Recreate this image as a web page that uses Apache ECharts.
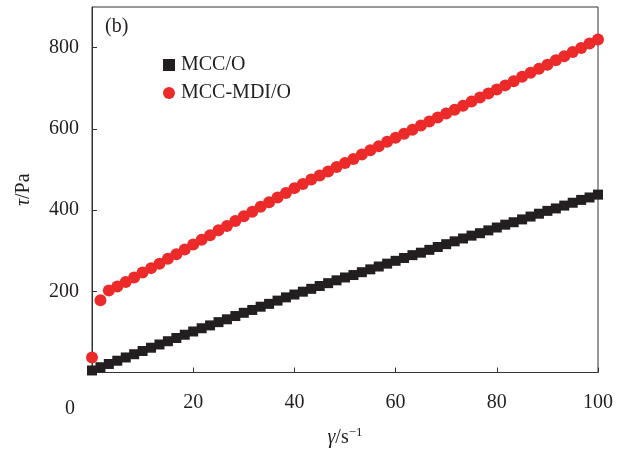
<!DOCTYPE html>
<html lang="en">
<head>
    <meta charset="UTF-8">
    <title>Shear stress vs shear rate</title>
</head>
<style>
    body{
        margin: 0;
        padding: 0;
        background-color: #fff;
    }
    .main{
        width: 628px;
        height: 453px;
    }
</style>
<body>
    <div class="main"></div>
</body>
<script src="https://cdn.jsdelivr.net/npm/echarts/dist/echarts.min.js"></script>
<script>
  // 剪切速率 (s^-1)
  var shearRate = [0, 1.67, 3.33, 5, 6.67, 8.33, 10, 11.67, 13.33, 15, 16.67, 18.33, 20,
    21.67, 23.33, 25, 26.67, 28.33, 30, 31.67, 33.33, 35, 36.67, 38.33, 40,
    41.67, 43.33, 45, 46.67, 48.33, 50, 51.67, 53.33, 55, 56.67, 58.33, 60,
    61.67, 63.33, 65, 66.67, 68.33, 70, 71.67, 73.33, 75, 76.67, 78.33, 80,
    81.67, 83.33, 85, 86.67, 88.33, 90, 91.67, 93.33, 95, 96.67, 98.33, 100];
  // 剪切应力 (Pa)
  var mccO = [5, 13, 21, 29, 37, 45, 53, 61, 69, 77, 85, 93, 101,
    109, 116, 124, 131, 139, 147, 154, 162, 169, 177, 185, 192,
    199, 206, 213, 220, 227, 234, 240, 247, 254, 261, 268, 275,
    282, 289, 295, 302, 309, 316, 323, 330, 337, 343, 350, 357,
    364, 370, 377, 384, 391, 398, 404, 411, 418, 425, 431, 438];
  var mccMdiO = [37, 178, 202, 212, 223, 234, 246, 257, 268, 280, 291, 303, 315,
    327, 338, 350, 361, 373, 385, 396, 408, 419, 431, 442, 454,
    464, 475, 485, 495, 506, 516, 526, 537, 547, 557, 568, 578,
    588, 598, 608, 618, 628, 638, 647, 657, 667, 677, 687, 697,
    707, 717, 728, 738, 748, 758, 769, 779, 789, 799, 810, 820];
  var seriesNames = ['MCC/O', 'MCC-MDI/O'];
  var xTicks = [0, 100, 20];   // min, max, interval
  var yTicks = [0, 900, 200];

  function pairs(xs, ys){
    return xs.map(function(x, i){ return [x, ys[i]]; });
  }

  var font = 'Liberation Serif';
  var myChart = echarts.init(document.querySelector('.main'));
  var option = {
    animation: false,
    grid: {
        left: 92, right: 30, top: 7, bottom: 68,
        show: true, borderColor: '#333', borderWidth: 1
    },
    legend: {
        orient: 'vertical',
        left: 158, top: 50,
        itemGap: 8,
        itemWidth: 14, itemHeight: 12,
        textStyle: { fontFamily: font, fontSize: 20, color: '#231f20', padding: [0, 0, 0, 0] },
        data: [
            { name: seriesNames[0], icon: 'path://M2,2h8v8h-8z' },
            { name: seriesNames[1], icon: 'circle' }
        ]
    },
    xAxis: {
        type: 'value',
        min: xTicks[0], max: xTicks[1], interval: xTicks[2],
        name: '{i|γ}/s{sup|−1}',
        nameLocation: 'middle',
        nameGap: 54,
        nameTextStyle: {
            fontFamily: font, fontSize: 20, color: '#231f20',
            rich: {
                i: { fontFamily: font, fontStyle: 'italic', fontSize: 20, color: '#231f20' },
                sup: { fontFamily: font, fontSize: 13, color: '#231f20', padding: [0, 0, 10, 0] }
            }
        },
        axisLine: { lineStyle: { color: '#333' } },
        axisTick: { inside: true, length: 5, lineStyle: { color: '#333' } },
        axisLabel: { showMinLabel: false, margin: 20, fontFamily: font, fontSize: 20, color: '#231f20' },
        splitLine: { show: false }
    },
    yAxis: {
        type: 'value',
        min: yTicks[0], max: yTicks[1], interval: yTicks[2],
        name: '{i|τ}/Pa',
        nameLocation: 'middle',
        nameGap: 58,
        nameTextStyle: {
            fontFamily: font, fontSize: 20, color: '#231f20',
            rich: {
                i: { fontFamily: font, fontStyle: 'italic', fontSize: 20, color: '#231f20' }
            }
        },
        axisLine: { lineStyle: { color: '#333' } },
        axisTick: { inside: true, length: 5, lineStyle: { color: '#333' } },
        axisLabel: { showMinLabel: false, showMaxLabel: false, margin: 13, fontFamily: font, fontSize: 20, color: '#231f20' },
        splitLine: { show: false }
    },
    graphic: [
        { type: 'text', left: 105, top: 17, style: { text: '(b)', font: '20px "Liberation Serif"', fill: '#231f20' } },
        { type: 'text', left: 65, top: 399, style: { text: '0', font: '20px "Liberation Serif"', fill: '#231f20' } }
    ],
    series: [
        {
            name: seriesNames[0],
            type: 'scatter',
            data: pairs(shearRate, mccO),
            symbol: 'rect',
            symbolSize: 10,
            clip: false,
            itemStyle: { color: '#231f20', opacity: 1 }
        },
        {
            name: seriesNames[1],
            type: 'scatter',
            data: pairs(shearRate, mccMdiO),
            symbol: 'circle',
            symbolSize: 12,
            clip: false,
            itemStyle: { color: '#ec2a2a', opacity: 1 }
        }
    ]
  };
  myChart.setOption(option);
</script>
</html>
